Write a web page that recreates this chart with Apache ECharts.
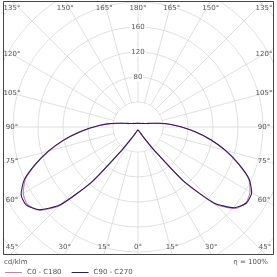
<!DOCTYPE html>
<html>
<head>
<meta charset="utf-8">
<script src="https://cdn.jsdelivr.net/npm/echarts@6/dist/echarts.min.js"></script>
<style>
  html, body { margin: 0; padding: 0; background: #fff; }
  #container { width: 277px; height: 277px; }
</style>
</head>
<body>
<div id="container"></div>
<script>
// gamma angles from nadir, 5 degree steps
var angles = [0, 5, 10, 15, 20, 25, 30, 35, 40, 45, 50, 55, 60, 65, 70, 75, 80, 85, 90,
    95, 100, 105, 110, 115, 120, 125, 130, 135, 140, 145, 150, 155, 160, 165, 170, 175, 180];

// cd/klm
var c90 = [5, 5, 6, 7, 9, 13, 22, 46, 114, 176, 206, 218, 216, 201, 175, 148, 121, 95, 71,
    52, 34, 23, 17, 13, 11, 10, 9, 8, 7.5, 7, 7, 6.5, 6.5, 6, 6, 6, 6];
var c270 = [5, 5, 6, 7, 9, 13, 22, 46, 112, 172, 201, 212, 210, 196, 171, 145, 119, 93, 70,
    51, 34, 23, 17, 13, 11, 10, 9, 8, 7.5, 7, 7, 6.5, 6.5, 6, 6, 6, 6];
var c180 = [5, 5, 6, 7, 9, 13, 23, 47, 115, 178, 207, 216, 212, 199, 174, 147, 120, 94, 70,
    51, 33, 22, 16, 13, 11, 10, 9, 8, 7.5, 7, 7, 6.5, 6.5, 6, 6, 6, 6];
var c0 = [5, 5, 6, 7, 9, 13, 23, 47, 113, 174, 203, 211, 207, 195, 170, 144, 118, 92, 69,
    50, 33, 22, 16, 13, 11, 10, 9, 8, 7.5, 7, 7, 6.5, 6.5, 6, 6, 6, 6];

var labelAngles = [0, 15, 30, 45, 60, 75, 90, 105, 120, 135, 150, 165, 180];
var radiusLabels = [80, 120, 160];

var dom = document.getElementById('container');
var ldcChart = echarts.init(dom, null, { renderer: 'canvas' });

var center = [138, 127];
var box = { left: 3, right: 273, top: 1, bottom: 254 };
var textColor = '#555';
var fontFamily = 'DejaVu Sans';

// left half runs 180 -> 0, right half 0 -> 180 (drawn at 360 - gamma)
function lobe(left, right) {
    let pts = [];
    for (let i = angles.length - 1; i >= 0; i--) {
        pts.push([left[i], angles[i]]);
    }
    for (let i = 0; i < angles.length; i++) {
        pts.push([right[i], 360 - angles[i]]);
    }
    return pts;
}

var option = {
    animation: false,
    polar: {
        center: center,
        radius: [0, 200]
    },
    angleAxis: {
        type: 'value',
        min: 0,
        max: 360,
        interval: 15,
        startAngle: 270,
        clockwise: true,
        axisLine: { show: false },
        axisTick: { show: false },
        axisLabel: { show: false },
        splitLine: { show: true, lineStyle: { color: '#d2d2d2', width: 0.7 } }
    },
    radiusAxis: {
        type: 'value',
        min: 0,
        max: 320,
        interval: 40,
        axisLine: { show: false },
        axisTick: { show: false },
        axisLabel: { show: false },
        splitLine: { show: true, lineStyle: { color: '#d2d2d2', width: 0.7 } }
    },
    legend: {
        left: 0,
        top: 264,
        z: 30,
        icon: 'rect',
        itemWidth: 17,
        itemHeight: 1,
        itemGap: 10,
        textStyle: { fontSize: 7, color: textColor, fontFamily: fontFamily },
        data: ['C0 - C180', 'C90 - C270']
    },
    series: [
        {
            name: 'C0 - C180',
            type: 'line',
            coordinateSystem: 'polar',
            data: lobe(c180, c0),
            symbol: 'none',
            smooth: 0.2,
            z: 4,
            lineStyle: { color: '#d27aa8', width: 1.1 },
            itemStyle: { color: '#c9849a' }
        },
        {
            name: 'C90 - C270',
            type: 'line',
            coordinateSystem: 'polar',
            data: lobe(c90, c270),
            symbol: 'none',
            smooth: 0.2,
            z: 5,
            lineStyle: { color: '#2b1d66', width: 1.1 },
            itemStyle: { color: '#2b1d66' }
        }
    ]
};

ldcChart.setOption(option);

// labels and frame, placed from the polar scale
var elements = [];

// keep the middle free of spokes
elements.push({
    type: 'circle',
    shape: { cx: center[0], cy: center[1], r: 24.5 },
    style: { fill: '#fff' },
    z: 1
});

// white margins outside the frame
elements.push({ type: 'rect', shape: { x: 0, y: 0, width: 277, height: box.top }, style: { fill: '#fff' }, z: 20 });
elements.push({ type: 'rect', shape: { x: 0, y: box.bottom, width: 277, height: 277 - box.bottom }, style: { fill: '#fff' }, z: 20 });
elements.push({ type: 'rect', shape: { x: 0, y: 0, width: box.left, height: 277 }, style: { fill: '#fff' }, z: 20 });
elements.push({ type: 'rect', shape: { x: box.right, y: 0, width: 277 - box.right, height: 277 }, style: { fill: '#fff' }, z: 20 });
elements.push({
    type: 'rect',
    shape: { x: box.left + 0.5, y: box.top + 0.5, width: box.right - box.left, height: box.bottom - box.top },
    style: { fill: null, stroke: '#444', lineWidth: 1 },
    z: 21
});

function angleLabel(gamma, side) {
    let v = side < 0 ? gamma : 360 - gamma;
    let p = ldcChart.convertToPixel({ seriesIndex: 0 }, [100, v]);
    let dx = p[0] - center[0];
    let dy = p[1] - center[1];
    let x, y;
    if (gamma <= 45) {
        x = center[0] + dx * (box.bottom - center[1]) / dy;
        y = 247;
    } else if (gamma >= 135) {
        x = center[0] + dx * (box.top - center[1]) / dy;
        y = 8;
    } else {
        x = side < 0 ? 12 : 264;
        y = center[1] + dy * (x - center[0]) / dx;
    }
    x = Math.max(12, Math.min(265, x));
    elements.push({
        type: 'text',
        x: x,
        y: y,
        z: 22,
        style: {
            text: gamma + '°',
            fill: textColor,
            font: '7px "' + fontFamily + '"',
            align: 'center',
            verticalAlign: 'middle'
        }
    });
}

labelAngles.forEach(function (g) {
    angleLabel(g, -1);
    if (g != 0 && g != 180) {
        angleLabel(g, 1);
    }
});

radiusLabels.forEach(function (r) {
    let p = ldcChart.convertToPixel({ seriesIndex: 0 }, [r, 180]);
    elements.push({
        type: 'text',
        x: p[0],
        y: p[1],
        z: 3,
        style: {
            text: String(r),
            fill: textColor,
            font: '7px "' + fontFamily + '"',
            align: 'center',
            verticalAlign: 'middle',
            backgroundColor: '#fff',
            padding: [1, 1]
        }
    });
});

elements.push({
    type: 'text', x: 4, y: 262, z: 22,
    style: { text: 'cd/klm', fill: textColor, font: '7px "' + fontFamily + '"', verticalAlign: 'middle' }
});
elements.push({
    type: 'text', x: 268, y: 262, z: 22,
    style: { text: 'η = 100%', fill: textColor, font: '7px "' + fontFamily + '"', align: 'right', verticalAlign: 'middle' }
});

ldcChart.setOption({ graphic: { elements: elements } });

window.addEventListener('resize', ldcChart.resize);
</script>
</body>
</html>
